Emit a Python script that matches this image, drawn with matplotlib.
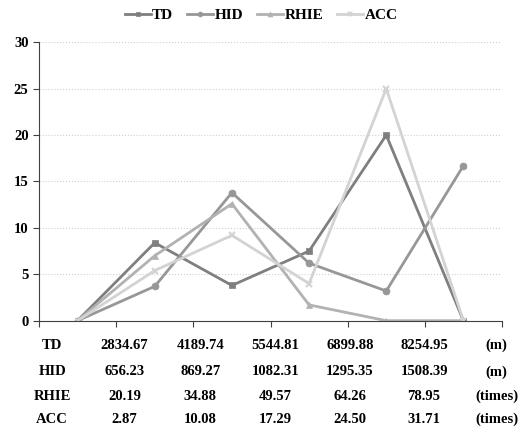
import matplotlib
matplotlib.use('Agg')
import matplotlib.pyplot as plt
import matplotlib.transforms as mtransforms

# ── data ──────────────────────────
series_names = ['TD', 'HID', 'RHIE', 'ACC']
td   = [0, 8.4, 3.8, 7.5, 20.0, 0]
hid  = [0, 3.7, 13.8, 6.2, 3.2, 16.7]
rhie = [0, 7.0, 12.6, 1.7, 0, 0]
acc  = [0, 5.4, 9.2, 4.0, 25.0, 0]

row_labels = ['TD', 'HID', 'RHIE', 'ACC']
row_values = [
    ['2834.67', '4189.74', '5544.81', '6899.88', '8254.95'],
    ['656.23', '869.27', '1082.31', '1295.35', '1508.39'],
    ['20.19', '34.88', '49.57', '64.26', '78.95'],
    ['2.87', '10.08', '17.29', '24.50', '31.71'],
]
row_units = ['(m)', '(m)', '(times)', '(times)']

colors  = ['#7f7f7f', '#979797', '#b2b2b2', '#d3d3d3']
markers = ['s', 'o', '^', 'x']

plt.rcParams['font.family'] = ['Liberation Serif', 'DejaVu Serif']
plt.rcParams['font.weight'] = 'bold'

fig = plt.figure(figsize=(5.22, 4.33), dpi=100)
ax = fig.add_axes([0.0747, 0.2594, 0.887, 0.6429])

xs = [i + 0.5 for i in range(len(td))]
for name, vals, c, m in zip(series_names, [td, hid, rhie, acc], colors, markers):
    ax.plot(xs, vals, color=c, marker=m, markersize=5, linewidth=2,
            markeredgewidth=1.5 if m == 'x' else 0.5, label=name)

ax.set_xlim(0, 6)
ax.set_ylim(0, 30)
ax.set_yticks(range(0, 31, 5))
ax.set_xticks(range(0, 7))
ax.set_xticklabels([])
ax.tick_params(axis='both', direction='out', length=4, color='#404040',
               labelsize=10.5)
for lbl in ax.get_yticklabels():
    lbl.set_fontweight('bold')
ax.yaxis.grid(True, linestyle=':', color='#d0d0d0', linewidth=0.8)
ax.set_axisbelow(True)
for s in ['top', 'right']:
    ax.spines[s].set_visible(False)
for s in ['left', 'bottom']:
    ax.spines[s].set_color('#404040')

# table under the axis
trans = mtransforms.blended_transform_factory(ax.transData, fig.transFigure)
row_y = [0.203, 0.141, 0.084, 0.031]
label_x = 0.17
val_x = [1.11, 2.09, 3.06, 4.03, 4.99]
unit_x = 5.93
for lab, vals, unit, y in zip(row_labels, row_values, row_units, row_y):
    ax.text(label_x, y, lab, transform=trans, ha='center', va='center',
            fontsize=10.5, fontweight='bold', clip_on=False)
    for vx, v in zip(val_x, vals):
        ax.text(vx, y, v, transform=trans, ha='center', va='center',
                fontsize=10.5, fontweight='bold', clip_on=False)
    ax.text(unit_x, y, unit, transform=trans, ha='center', va='center',
            fontsize=10.5, fontweight='bold', clip_on=False)

fig.legend(loc='upper center', bbox_to_anchor=(0.5, 1.012), ncol=4,
           frameon=False, prop={'weight': 'bold', 'size': 11},
           handlelength=1.7, handletextpad=0.1, columnspacing=0.9,
           markerscale=0.7)

fig.savefig('out.png', dpi=100)
